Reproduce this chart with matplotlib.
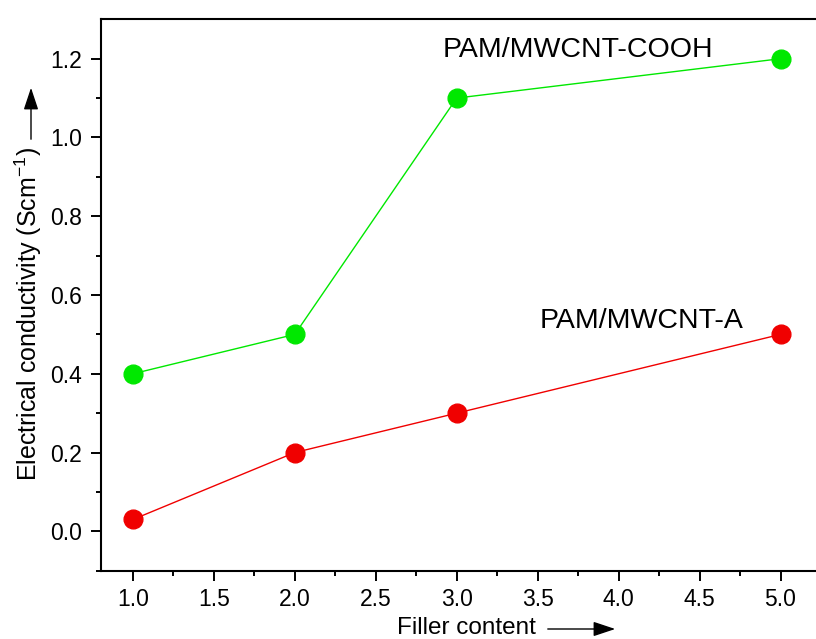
import matplotlib
matplotlib.use("Agg")
import matplotlib.pyplot as plt
from matplotlib.patches import FancyArrowPatch

plt.rcParams['font.family'] = ['Liberation Sans', 'DejaVu Sans']

filler = [1.0, 2.0, 3.0, 5.0]
cooh = [0.4, 0.5, 1.1, 1.2]
amine = [0.03, 0.2, 0.3, 0.5]
xticks = [1.0, 1.5, 2.0, 2.5, 3.0, 3.5, 4.0, 4.5, 5.0]
yticks = [0.0, 0.2, 0.4, 0.6, 0.8, 1.0, 1.2]

W, H = 816, 639
fig = plt.figure(figsize=(W / 100, H / 100), dpi=100)
ax = fig.add_axes([100.5 / W, 68.3 / H, 720.5 / W, 551.7 / H])

ax.plot(filler, cooh, "-o", color="#00e800", lw=1, ms=13.5, mfc="#00e800", mec="#00e800")
ax.plot(filler, amine, "-o", color="#f00000", lw=1, ms=13.5, mfc="#f00000", mec="#f00000")

ax.text(2.914, 1.205, "PAM/MWCNT-COOH", fontsize=20.5)
ax.text(3.514, 0.516, "PAM/MWCNT-A", fontsize=20.5)

ax.set_xlim(0.8, 5.2)
ax.set_ylim(-0.0785, 1.3008)
ax.set_xticks(xticks)
ax.set_xticklabels(["%.1f" % v for v in xticks])
ax.set_yticks(yticks)
ax.set_yticklabels(["%.1f" % v for v in yticks])
ax.set_xticks([1.25, 1.75, 2.25, 2.75, 3.25, 3.75, 4.25, 4.75, 5.25], minor=True)
ax.set_yticks([-0.1, 0.1, 0.3, 0.5, 0.7, 0.9, 1.1], minor=True)
ax.tick_params(which="major", direction="out", length=7.5, width=1.4, labelsize=16.5)
ax.tick_params(which="minor", direction="out", length=3.6, width=1.4)
ax.tick_params(axis="x", which="major", pad=5)
ax.tick_params(axis="y", which="major", pad=6)
for s in ax.spines.values():
    s.set_linewidth(1.5)

# axis titles, each with its arrow
fig.text(396.7 / W, 1 - 634 / H, "Filler content", fontsize=17.5, ha="left", va="baseline")
fig.add_artist(FancyArrowPatch((545 / W, 1 - 629 / H), (618 / W, 1 - 629 / H),
               transform=fig.transFigure, arrowstyle="-|>,head_length=0.9,head_width=0.3",
               mutation_scale=15, lw=1, color="black"))
fig.text(28 / W, 1 - 314 / H, "Electrical conductivity (Scm$^{\\mathregular{-1}}$)", fontsize=18,
         rotation=90, ha="center", va="center")
fig.add_artist(FancyArrowPatch((31 / W, 1 - 142 / H), (31 / W, 1 - 85 / H),
               transform=fig.transFigure, arrowstyle="-|>,head_length=0.9,head_width=0.3",
               mutation_scale=15, lw=1, color="black"))

fig.savefig("out.png", dpi=100)
